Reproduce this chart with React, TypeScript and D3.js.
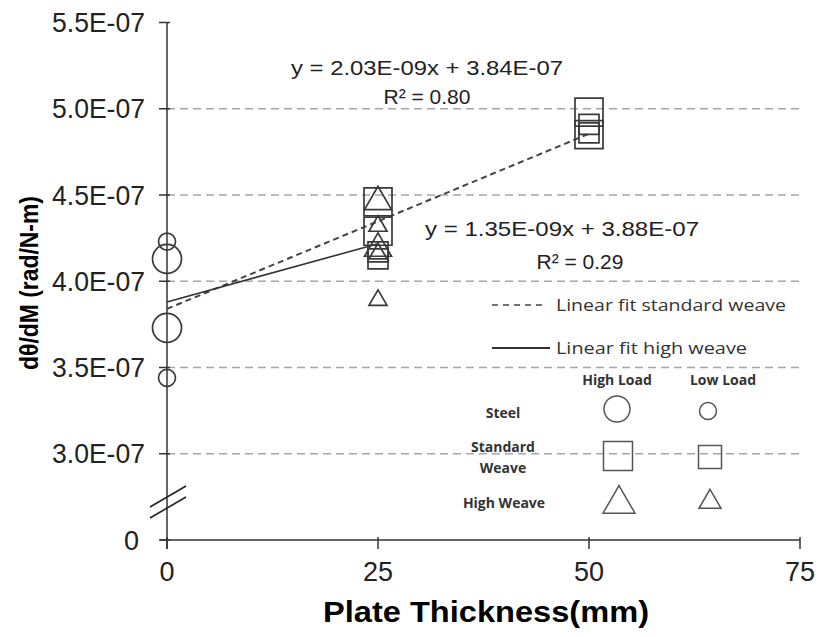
import React, { useEffect, useRef } from 'react';
import * as d3 from 'd3';

// plate thickness (mm) and d-theta/dM values (rad/N-m)
const steelHighX = [0, 0];
const steelHighY = [4.13e-7, 3.73e-7];
const steelLowX = [0, 0];
const steelLowY = [4.23e-7, 3.44e-7];
const stdHighX = [25, 25, 50, 50];
const stdHighY = [4.46e-7, 4.29e-7, 4.98e-7, 4.85e-7];
const stdLowX = [25, 25, 50, 50];
const stdLowY = [4.17e-7, 4.13e-7, 4.91e-7, 4.86e-7];
const hwHighX = [25, 25];
const hwHighY = [4.46e-7, 4.19e-7];
const hwLowX = [25, 25, 25];
const hwLowY = [4.32e-7, 4.16e-7, 3.89e-7];

const xTicks = [0, 25, 50, 75];
const yTicks = [2.5e-7, 3.0e-7, 3.5e-7, 4.0e-7, 4.5e-7, 5.0e-7, 5.5e-7];
const gridTicks = [3.0e-7, 3.5e-7, 4.0e-7, 4.5e-7, 5.0e-7];

// linear fits
const stdFit = { slope: 2.03e-9, intercept: 3.84e-7, xMax: 50 };
const hwFit = { slope: 1.35e-9, intercept: 3.88e-7, xMax: 25 };

const AX = '"Liberation Sans", Arial, sans-serif';
const CAL = '"Open Sans", "Noto Sans", sans-serif';

export default function App() {
  const svgRef = useRef<SVGSVGElement>(null);

  useEffect(() => {
    const svg = d3.select(svgRef.current);
    svg.selectAll('*').remove();

    const x = d3.scaleLinear().domain([0, 75]).range([167, 800]);
    const y = d3.scaleLinear().domain([2.5e-7, 5.5e-7]).range([540, 22.5]);

    // grid
    svg.append('g').selectAll('line').data(gridTicks).enter().append('line')
      .attr('x1', x(0)).attr('x2', x(75))
      .attr('y1', d => y(d)).attr('y2', d => y(d))
      .attr('stroke', '#a6a6a6').attr('stroke-width', 1.3)
      .attr('stroke-dasharray', '8,5');

    // axes
    svg.append('line').attr('x1', x(0)).attr('x2', x(0))
      .attr('y1', y(5.5e-7)).attr('y2', y(2.5e-7) + 9)
      .attr('stroke', '#333').attr('stroke-width', 1.5);
    svg.append('line').attr('x1', x(0) - 7).attr('x2', x(75))
      .attr('y1', y(2.5e-7)).attr('y2', y(2.5e-7))
      .attr('stroke', '#333').attr('stroke-width', 1.5);

    svg.append('g').selectAll('line').data(yTicks).enter().append('line')
      .attr('x1', x(0) - 8).attr('x2', x(0) + 3)
      .attr('y1', d => y(d)).attr('y2', d => y(d))
      .attr('stroke', '#333').attr('stroke-width', 1.5);
    svg.append('g').selectAll('line').data(xTicks).enter().append('line')
      .attr('x1', d => x(d)).attr('x2', d => x(d))
      .attr('y1', y(2.5e-7) - 3).attr('y2', y(2.5e-7) + 9)
      .attr('stroke', '#333').attr('stroke-width', 1.5);

    svg.append('g').selectAll('text').data(yTicks).enter().append('text')
      .attr('x', d => d === 2.5e-7 ? 139 : 145)
      .attr('y', d => y(d)).attr('dy', '0.36em')
      .attr('text-anchor', 'end')
      .attr('font-family', AX).attr('font-size', 27).attr('fill', '#222')
      .attr('textLength', d => d === 2.5e-7 ? null : 93)
      .attr('lengthAdjust', 'spacingAndGlyphs')
      .text(d => d === 2.5e-7 ? '0' : (d * 1e7).toFixed(1) + 'E-07');

    svg.append('g').selectAll('text').data(xTicks).enter().append('text')
      .attr('x', d => x(d)).attr('y', 581)
      .attr('text-anchor', 'middle')
      .attr('font-family', AX).attr('font-size', 27).attr('fill', '#222')
      .text(d => d);

    // axis break
    [0, 11].forEach(off => {
      svg.append('line')
        .attr('x1', x(0) - 17).attr('y1', 507 + off)
        .attr('x2', x(0) + 19).attr('y2', 486 + off)
        .attr('stroke', '#222').attr('stroke-width', 1.6);
    });

    // titles
    svg.append('text')
      .attr('transform', 'translate(29,283) rotate(-90)')
      .attr('text-anchor', 'middle').attr('dy', '0.35em')
      .attr('font-family', AX).attr('font-weight', 'bold').attr('font-size', 25)
      .attr('textLength', 174).attr('lengthAdjust', 'spacingAndGlyphs')
      .text('dθ/dM (rad/N-m)');
    svg.append('text')
      .attr('x', 486).attr('y', 622)
      .attr('text-anchor', 'middle')
      .attr('font-family', AX).attr('font-weight', 'bold').attr('font-size', 30)
      .attr('textLength', 326).attr('lengthAdjust', 'spacingAndGlyphs')
      .text('Plate Thickness(mm)');

    // fit lines
    const fitLine = (f) => d3.line<number>()
      .x(d => x(d))
      .y(d => y(f.intercept + f.slope * d))([0, f.xMax]);
    svg.append('path').attr('d', fitLine(stdFit))
      .attr('fill', 'none').attr('stroke', '#444').attr('stroke-width', 2)
      .attr('stroke-dasharray', '6,4');
    svg.append('path').attr('d', fitLine(hwFit))
      .attr('fill', 'none').attr('stroke', '#333').attr('stroke-width', 1.6);

    // markers
    const tri = (side) => d3.symbol(d3.symbolTriangle, Math.sqrt(3) / 4 * side * side)();
    const sq = (side) => d3.symbol(d3.symbolSquare, side * side)();
    const circ = (dia) => d3.symbol(d3.symbolCircle, Math.PI * dia * dia / 4)();

    const series = [
      { xs: steelHighX, ys: steelHighY, path: circ(29) },
      { xs: steelLowX, ys: steelLowY, path: circ(17) },
      { xs: stdHighX, ys: stdHighY, path: sq(28) },
      { xs: stdLowX, ys: stdLowY, path: sq(20) },
      { xs: hwHighX, ys: hwHighY, path: tri(27) },
      { xs: hwLowX, ys: hwLowY, path: tri(18) },
    ];
    series.forEach(s => {
      svg.append('g').selectAll('path').data(s.ys).enter().append('path')
        .attr('d', s.path)
        .attr('transform', (d, i) => `translate(${x(s.xs[i])},${y(d)})`)
        .attr('fill', 'none').attr('stroke', '#3a3a3a').attr('stroke-width', 1.7);
    });

    // equations
    const eq = (tx, ty, str, len) => {
      const t = svg.append('text').attr('x', tx).attr('y', ty).attr('dy', '0.35em')
        .attr('text-anchor', 'middle')
        .attr('font-family', AX).attr('font-size', 21).attr('fill', '#222')
        .text(str);
      if (len) t.attr('textLength', len).attr('lengthAdjust', 'spacingAndGlyphs');
    };
    eq(427, 68, 'y = 2.03E-09x + 3.84E-07', 272);
    eq(427, 97, 'R² = 0.80', 0);
    eq(562, 229, 'y = 1.35E-09x + 3.88E-07', 274);
    eq(580, 262, 'R² = 0.29', 0);

    // line legend
    svg.append('line').attr('x1', 492).attr('x2', 545).attr('y1', 305).attr('y2', 305)
      .attr('stroke', '#444').attr('stroke-width', 1.6).attr('stroke-dasharray', '6,5');
    svg.append('line').attr('x1', 492).attr('x2', 550).attr('y1', 348).attr('y2', 348)
      .attr('stroke', '#333').attr('stroke-width', 1.8);
    svg.append('text').attr('x', 556).attr('y', 305).attr('dy', '0.35em')
      .attr('font-family', CAL).attr('font-size', 17).attr('fill', '#333')
      .attr('textLength', 230).attr('lengthAdjust', 'spacingAndGlyphs')
      .text('Linear fit standard weave');
    svg.append('text').attr('x', 556).attr('y', 348).attr('dy', '0.35em')
      .attr('font-family', CAL).attr('font-size', 17).attr('fill', '#333')
      .attr('textLength', 191).attr('lengthAdjust', 'spacingAndGlyphs')
      .text('Linear fit high weave');

    // marker legend table
    const lbl = (tx, ty, str) => svg.append('text').attr('x', tx).attr('y', ty)
      .attr('dy', '0.35em').attr('text-anchor', 'middle')
      .attr('font-family', CAL).attr('font-weight', 'bold').attr('font-size', 14)
      .attr('fill', '#333').text(str);
    lbl(617, 380, 'High Load');
    lbl(723, 380, 'Low Load');
    lbl(503, 413, 'Steel');
    lbl(503, 447, 'Standard');
    lbl(503, 468, 'Weave');
    lbl(504, 503, 'High Weave');

    const legMarks = [
      { cx: 617, cy: 409, path: circ(26) },
      { cx: 708, cy: 411, path: circ(17) },
      { cx: 618, cy: 456, path: sq(29) },
      { cx: 710, cy: 457, path: sq(23) },
      { cx: 619, cy: 504, path: tri(32) },
      { cx: 710, cy: 502, path: tri(22) },
    ];
    legMarks.forEach(m => {
      svg.append('path').attr('d', m.path)
        .attr('transform', `translate(${m.cx},${m.cy})`)
        .attr('fill', 'none').attr('stroke', '#555').attr('stroke-width', 1.5);
    });
  }, []);

  return (
    <svg ref={svgRef} width={820} height={637}
      style={{ position: 'absolute', left: 0, top: 0, background: '#fff' }} />
  );
}
